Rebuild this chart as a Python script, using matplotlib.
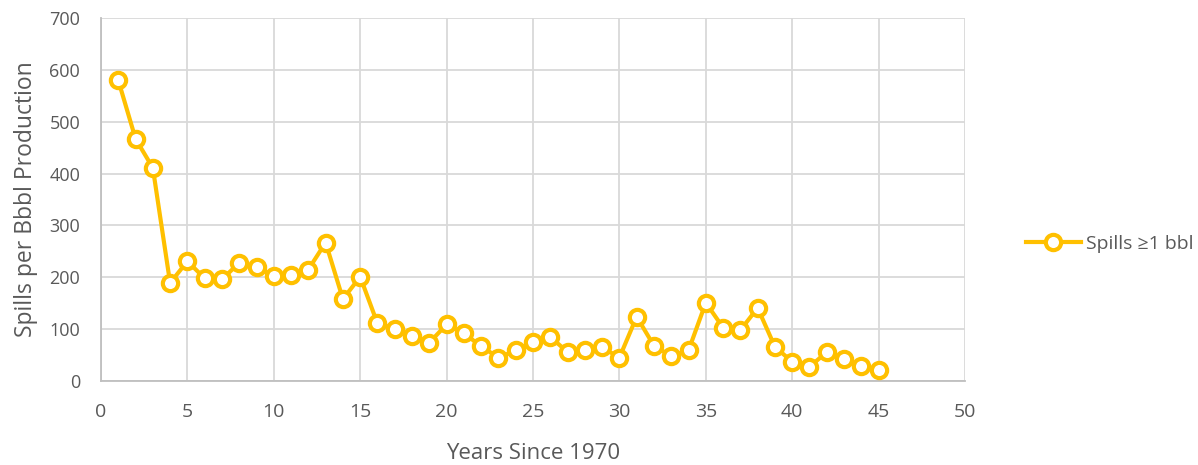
import matplotlib
matplotlib.use("Agg")
import matplotlib.pyplot as plt

years = list(range(1, 46))
spills = [580, 467, 411, 189, 231, 198, 196, 228, 220, 202,
          205, 215, 267, 158, 201, 111, 101, 86, 74, 109,
          92, 67, 45, 59, 75, 85, 56, 59, 65, 45,
          124, 68, 48, 59, 151, 103, 98, 141, 66, 37,
          27, 56, 43, 29, 22]

series_label = "Spills \u22651 bbl"
x_title = "Years Since 1970"
y_title = "Spills per Bbbl Production"

plt.rcParams['font.family'] = ['Open Sans', 'DejaVu Sans']
text_color = "#595959"
grid_color = "#d9d9d9"
gold = "#FFC000"

fig = plt.figure(figsize=(11.98, 4.65), dpi=100)
ax = fig.add_axes([0.0843, 0.1806, 0.7212, 0.7807])

ax.plot(years, spills, color=gold, linewidth=3, marker="o", markersize=11,
        markerfacecolor="white", markeredgecolor=gold, markeredgewidth=3,
        label=series_label, zorder=3, clip_on=False)

ax.set_xlim(0, 50)
ax.set_ylim(0, 700)
ax.set_xticks(range(0, 51, 5))
ax.set_yticks(range(0, 701, 100))
ax.grid(True, color=grid_color, linewidth=1.3)
ax.set_axisbelow(True)
for side in ("top", "right"):
    ax.spines[side].set_visible(False)
for side in ("left", "bottom"):
    ax.spines[side].set_color("#bfbfbf")
    ax.spines[side].set_linewidth(1.3)
ax.tick_params(axis="y", length=0, labelsize=13, colors=text_color, pad=15)
ax.tick_params(axis="x", length=0, labelsize=14, colors=text_color, pad=16)

ax.set_xlabel(x_title, fontsize=16, color=text_color, labelpad=16)
ax.set_ylabel(y_title, fontsize=16.5, color=text_color, labelpad=8)

leg = fig.legend(loc="center left", bbox_to_anchor=(0.842, 0.475), frameon=False,
                 fontsize=14, handlelength=2.8, handletextpad=0.3)
for t in leg.get_texts():
    t.set_color(text_color)

fig.savefig("out.png", dpi=100)
